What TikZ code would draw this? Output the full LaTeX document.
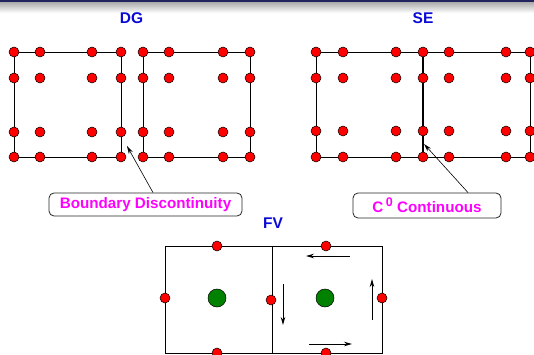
\documentclass[tikz,border=0pt]{standalone}
\usepackage{fontspec}
\setmainfont{Liberation Sans}
\usetikzlibrary{positioning,arrows.meta}
\definecolor{titleblue}{RGB}{10,10,215}
\definecolor{headnavy}{RGB}{35,35,95}
\definecolor{fvgreen}{RGB}{0,130,0}
\definecolor{notepink}{RGB}{255,0,255}

\begin{document}
\begin{tikzpicture}[x=1pt,y=-1pt,>={Stealth[length=8pt,width=4.5pt]},
  dot/.style={circle,draw=black,fill=red,inner sep=0pt,minimum size=10pt,line width=0.5pt},
  bigdot/.style={circle,draw=black,fill=fvgreen,inner sep=0pt,minimum size=18pt,line width=0.5pt},
  title/.style={text=titleblue,font=\fontsize{15.5}{17}\selectfont\bfseries},
  note/.style={draw=black!85,line width=0.8pt,rounded corners=5pt,text=notepink,inner sep=0pt,
    font=\fontsize{15.2}{17}\selectfont\bfseries},
  cell/.style={line width=0.9pt}]
\useasboundingbox (0,0) rectangle (534,355);
% slide header
\fill[headnavy] (0,0) rectangle (534,3);
\shade[top color=gray!60,bottom color=white] (0,3) rectangle (534,13);

% DG: two separate elements
\node[title] (dg) at (131.5,18) {DG};
\draw[cell] (14,52) rectangle (121,157);
\draw[cell] (143,52) rectangle (250,157);
\foreach \x [count=\i] in {14,40,92,121}
  \foreach \y [count=\j] in {52,78,132,157}
    \node[dot] (dgL-\i-\j) at (\x,\y) {};
\foreach \x [count=\i] in {143,169,223,250}
  \foreach \y [count=\j] in {52,78,132,157}
    \node[dot] (dgR-\i-\j) at (\x,\y) {};

% SE: shared edge
\node[title] (se) at (423,18) {SE};
\draw[cell] (316,52) rectangle (530,157);
\draw[line width=2pt] (423,52) -- (423,157);
\foreach \x [count=\i] in {316,343,396,423,449,506,530}
  \foreach \y [count=\j] in {52,78,131,157}
    \node[dot] (se-\i-\j) at (\x,\y) {};

% notes
\node[note,minimum width=193pt,minimum height=23pt] (dgnote) at (145.5,204.5) {Boundary Discontinuity};
\node[note,minimum width=148pt,minimum height=25pt] (senote) at (427,205.5)
  {C\,\raisebox{0.42em}{\fontsize{12.5}{13}\selectfont 0} Continuous};
\coordinate (dgjump) at (127,146);
\coordinate (sejump) at (424,144);
\draw[->,line width=0.6pt] ([xshift=7.5pt]dgnote.north) -- (dgjump);
\draw[->,line width=0.6pt] ([xshift=41pt]senote.north) -- (sejump);

% FV: cell centres and fluxes
\node[title] (fv) at (273,223) {FV};
\draw[cell] (165,246) rectangle (382,353);
\draw[cell] (272,246) -- (272,353);
\node[dot] (fvTl) at (217,246) {};
\node[dot] (fvTr) at (326,246) {};
\node[dot] (fvW) at (165,298) {};
\node[dot] (fvM) at (271,300) {};
\node[dot] (fvE) at (382,298) {};
\node[dot] (fvBl) at (217,353) {};
\node[dot] (fvBr) at (326,353) {};
\node[bigdot] (fvCl) at (217,298) {};
\node[bigdot] (fvCr) at (325,298) {};
\coordinate (fluxTa) at (350,256);
\coordinate (fluxTb) at (306,256);
\coordinate (fluxLa) at (283,284);
\coordinate (fluxLb) at (283,325);
\coordinate (fluxBa) at (309,344);
\coordinate (fluxBb) at (352,344);
\coordinate (fluxRa) at (372,320);
\coordinate (fluxRb) at (372,279);
\draw[->,line width=0.9pt] (fluxTa) -- (fluxTb);
\draw[->,line width=0.9pt] (fluxLa) -- (fluxLb);
\draw[->,line width=0.9pt] (fluxBa) -- (fluxBb);
\draw[->,line width=0.9pt] (fluxRa) -- (fluxRb);
\end{tikzpicture}
\end{document}
